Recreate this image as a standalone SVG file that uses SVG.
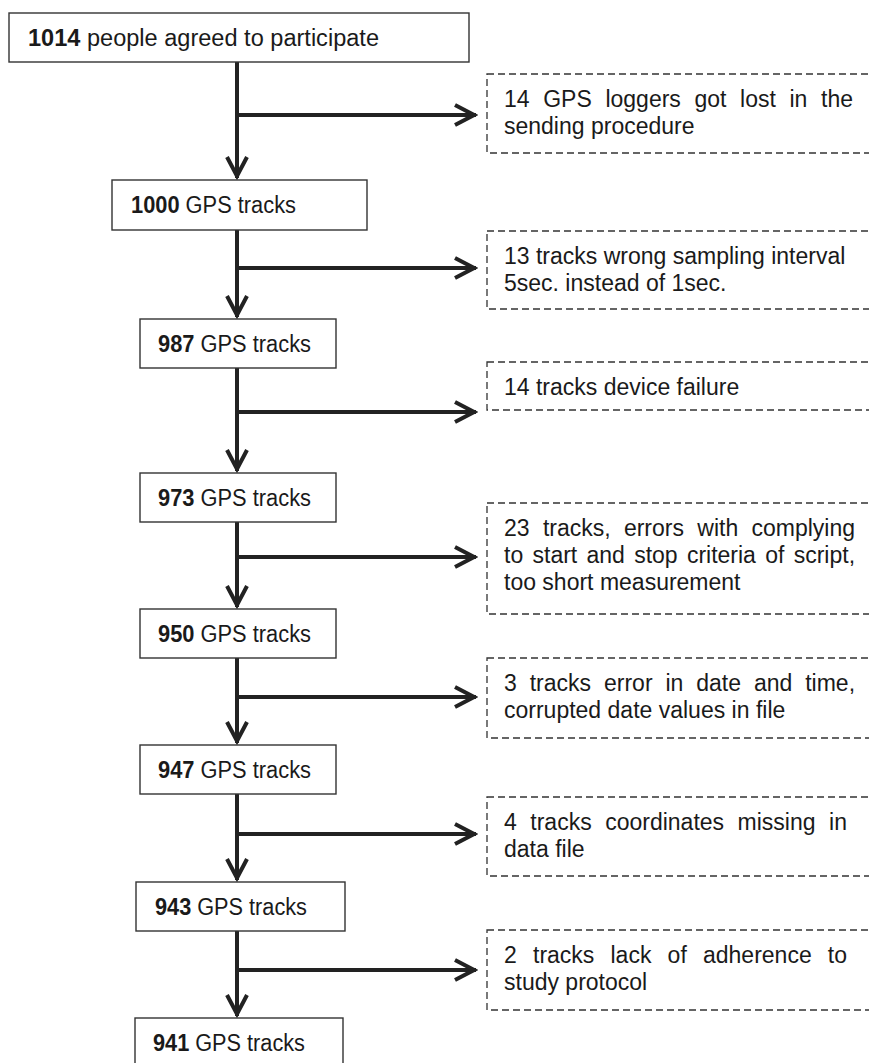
<svg xmlns="http://www.w3.org/2000/svg" width="869" height="1063" viewBox="0 0 869 1063">
<defs>
<style>
.box{fill:#fff;stroke:#333;stroke-width:1.4}
.dbox{fill:#fff;stroke:#333;stroke-width:1.3;stroke-dasharray:7 4}
.t{font-family:"Liberation Sans",Arial,sans-serif;font-size:23.5px;fill:#1a1a1a}
.d{font-family:"Liberation Sans",Arial,sans-serif;font-size:23px;fill:#1a1a1a}
.b{font-weight:bold}
.con{fill:none;stroke:#222;stroke-width:4;marker-end:url(#chev)}
</style>
<marker id="chev" viewBox="-24 -12 28 24" refX="2" refY="0" markerWidth="28" markerHeight="24" orient="auto" markerUnits="userSpaceOnUse">
<path d="M-19,-10 L0,0 L-19,10" fill="none" stroke="#222" stroke-width="4"/>
</marker>
</defs>
<rect width="869" height="1063" fill="#fff"/>

<g id="connectors">
<path class="con" d="M237,62 V178"/>
<path class="con" d="M237,115 H476"/>
<path class="con" d="M237,230 V317"/>
<path class="con" d="M237,268 H476"/>
<path class="con" d="M237,368 V471"/>
<path class="con" d="M237,412 H476"/>
<path class="con" d="M237,522 V607"/>
<path class="con" d="M237,557 H476"/>
<path class="con" d="M237,658 V743"/>
<path class="con" d="M237,697 H476"/>
<path class="con" d="M237,794 V880"/>
<path class="con" d="M237,834 H476"/>
<path class="con" d="M237,931 V1016"/>
<path class="con" d="M237,970 H476"/>
</g>

<g id="n1014">
<rect class="box" x="9" y="13" width="460" height="49"/>
<text class="t" x="28" y="46" textLength="351" lengthAdjust="spacingAndGlyphs"><tspan class="b">1014</tspan> people agreed to participate</text>
</g>
<g id="n1000">
<rect class="box" x="112" y="180" width="255" height="50"/>
<text class="t" x="131" y="213" textLength="165" lengthAdjust="spacingAndGlyphs"><tspan class="b">1000</tspan> GPS tracks</text>
</g>
<g id="n987">
<rect class="box" x="140" y="319" width="196" height="49"/>
<text class="t" x="158" y="352" textLength="153" lengthAdjust="spacingAndGlyphs"><tspan class="b">987</tspan> GPS tracks</text>
</g>
<g id="n973">
<rect class="box" x="140" y="473" width="196" height="49"/>
<text class="t" x="158" y="506" textLength="153" lengthAdjust="spacingAndGlyphs"><tspan class="b">973</tspan> GPS tracks</text>
</g>
<g id="n950">
<rect class="box" x="140" y="609" width="196" height="49"/>
<text class="t" x="158" y="642" textLength="153" lengthAdjust="spacingAndGlyphs"><tspan class="b">950</tspan> GPS tracks</text>
</g>
<g id="n947">
<rect class="box" x="140" y="745" width="196" height="49"/>
<text class="t" x="158" y="778" textLength="153" lengthAdjust="spacingAndGlyphs"><tspan class="b">947</tspan> GPS tracks</text>
</g>
<g id="n943">
<rect class="box" x="136" y="882" width="209" height="49"/>
<text class="t" x="155" y="915" textLength="152" lengthAdjust="spacingAndGlyphs"><tspan class="b">943</tspan> GPS tracks</text>
</g>
<g id="n941">
<rect class="box" x="135" y="1018" width="208" height="60"/>
<text class="t" x="153" y="1051" textLength="152" lengthAdjust="spacingAndGlyphs"><tspan class="b">941</tspan> GPS tracks</text>
</g>

<g id="ex1">
<rect class="dbox" x="487" y="74" width="400" height="79"/>
<text class="d" y="107"><tspan x="504">14</tspan> <tspan x="543.2">GPS</tspan> <tspan x="605.4">loggers</tspan> <tspan x="694.5">got</tspan> <tspan x="740.1">lost</tspan> <tspan x="789.5">in</tspan> <tspan x="821">the</tspan></text>
<text class="d" x="504" y="134">sending procedure</text>
</g>
<g id="ex2">
<rect class="dbox" x="487" y="231" width="400" height="78"/>
<text class="d" x="504" y="264">13 tracks wrong sampling interval</text>
<text class="d" x="504" y="291">5sec. instead of 1sec.</text>
</g>
<g id="ex3">
<rect class="dbox" x="487" y="362" width="400" height="48"/>
<text class="d" x="504" y="395">14 tracks device failure</text>
</g>
<g id="ex4">
<rect class="dbox" x="487" y="503" width="400" height="111"/>
<text class="d" y="536"><tspan x="504">23</tspan> <tspan x="542.9">tracks,</tspan> <tspan x="623.9">errors</tspan> <tspan x="697.3">with</tspan> <tspan x="751.5">complying</tspan></text>
<text class="d" y="563"><tspan x="504">to</tspan> <tspan x="532.5">start</tspan> <tspan x="586.5">and</tspan> <tspan x="634.2">stop</tspan> <tspan x="686.9">criteria</tspan> <tspan x="765.2">of</tspan> <tspan x="793.7">script,</tspan></text>
<text class="d" x="504" y="590">too short measurement</text>
</g>
<g id="ex5">
<rect class="dbox" x="487" y="658" width="400" height="80"/>
<text class="d" y="691"><tspan x="504">3</tspan> <tspan x="529.7">tracks</tspan> <tspan x="604">error</tspan> <tspan x="665.4">in</tspan> <tspan x="696.2">date</tspan> <tspan x="753.9">and</tspan> <tspan x="805.2">time,</tspan></text>
<text class="d" x="504" y="718">corrupted date values in file</text>
</g>
<g id="ex6">
<rect class="dbox" x="487" y="797" width="400" height="79"/>
<text class="d" y="830"><tspan x="504">4</tspan> <tspan x="530.3">tracks</tspan> <tspan x="605.2">coordinates</tspan> <tspan x="737.6">missing</tspan> <tspan x="829.1">in</tspan></text>
<text class="d" x="504" y="857">data file</text>
</g>
<g id="ex7">
<rect class="dbox" x="487" y="930" width="400" height="80"/>
<text class="d" y="963"><tspan x="504">2</tspan> <tspan x="533">tracks</tspan> <tspan x="610.5">lack</tspan> <tspan x="667.6">of</tspan> <tspan x="703">adherence</tspan> <tspan x="827.8">to</tspan></text>
<text class="d" x="504" y="990">study protocol</text>
</g>
</svg>
